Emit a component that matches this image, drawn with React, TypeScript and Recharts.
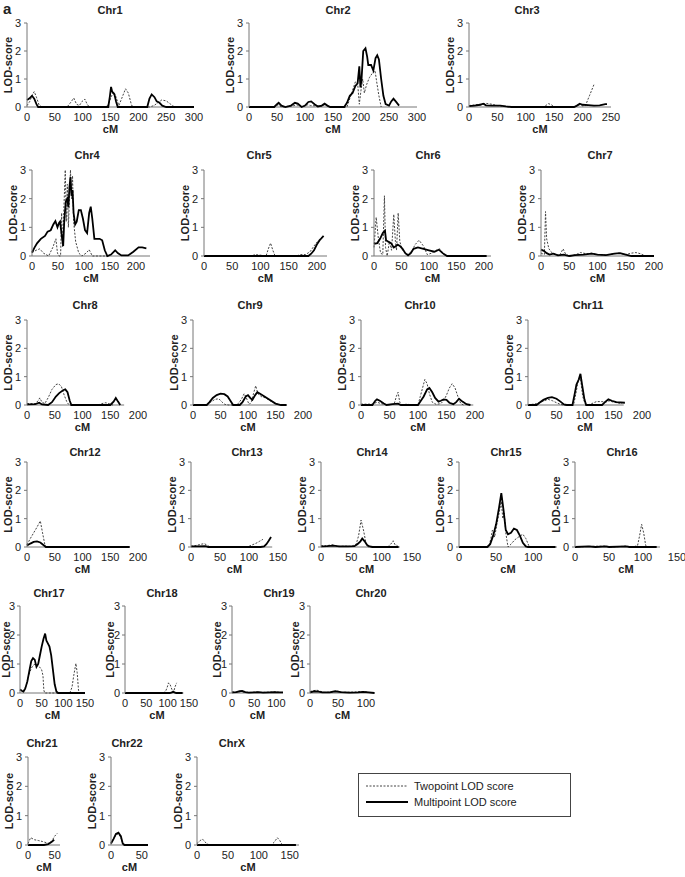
import { LineChart, Line, XAxis, YAxis, ReferenceLine } from 'recharts';

type Pt = [number, number];

// [cM, LOD] pairs; "Two" = twopoint (dotted), "Multi" = multipoint (solid)
const chr1Two: Pt[] = [[0, 0.05], [5, 0.2], [10, 0.45], [13, 0.55], [17, 0.35], [22, 0.05], [28, 0], [72, 0], [78, 0.15], [84, 0.32], [89, 0.1], [94, 0.05], [99, 0.2], [104, 0.28], [108, 0.1], [112, 0], [143, 0], [148, 0.2], [152, 0.4], [156, 0.55], [160, 0.35], [165, 0.05], [170, 0.3], [177, 0.65], [182, 0.5], [188, 0.05], [195, 0], [220, 0], [228, 0.05], [235, 0.15], [242, 0.25], [250, 0.22], [258, 0.1], [265, 0]];
const chr1Multi: Pt[] = [[0, 0.25], [4, 0.3], [9, 0.4], [13, 0.3], [17, 0.1], [20, 0], [146, 0], [149, 0.4], [151, 0.72], [153, 0.55], [157, 0.45], [160, 0.2], [163, 0], [216, 0], [220, 0.3], [224, 0.45], [229, 0.35], [233, 0.2], [238, 0.15], [243, 0.05], [250, 0], [300, 0]];

const chr2Two: Pt[] = [[0, 0], [45, 0], [52, 0.08], [58, 0], [80, 0.05], [85, 0.08], [95, 0], [105, 0.08], [110, 0.05], [130, 0.03], [135, 0.08], [145, 0], [175, 0], [180, 0.3], [185, 0.6], [190, 0.9], [194, 0.85], [197, 0.1], [200, 0.6], [203, 1.0], [206, 0.5], [210, 0.8], [215, 1.05], [220, 1.2], [225, 1.3], [228, 0.9], [232, 0.4], [236, 0]];
const chr2Multi: Pt[] = [[0, 0], [45, 0], [50, 0.1], [53, 0.15], [58, 0.05], [65, 0], [75, 0.05], [82, 0.15], [87, 0.12], [94, 0], [100, 0.05], [106, 0.18], [111, 0.2], [117, 0.1], [123, 0.02], [130, 0.05], [135, 0.12], [140, 0.05], [145, 0], [170, 0], [175, 0.15], [180, 0.4], [185, 0.5], [190, 0.75], [194, 0.85], [197, 1.45], [199, 0.7], [201, 1.0], [204, 2.0], [208, 2.1], [211, 1.8], [213, 1.5], [218, 1.5], [222, 1.3], [226, 1.75], [229, 1.85], [232, 1.7], [236, 1.0], [240, 0.4], [244, 0.1], [250, 0.05], [254, 0.2], [258, 0.3], [262, 0.2], [268, 0.05]];

const chr3Two: Pt[] = [[0, 0.05], [10, 0.08], [20, 0.1], [30, 0.13], [40, 0.1], [50, 0.05], [60, 0.03], [70, 0], [130, 0], [135, 0.05], [140, 0.12], [145, 0.08], [150, 0], [185, 0], [195, 0.08], [200, 0.04], [205, 0.05], [212, 0.4], [220, 0.8]];
const chr3Multi: Pt[] = [[0, 0.03], [10, 0.05], [20, 0.08], [25, 0.12], [30, 0.06], [40, 0.05], [55, 0.05], [65, 0.02], [75, 0], [185, 0], [190, 0.05], [195, 0.12], [200, 0.08], [210, 0.07], [220, 0.05], [230, 0.06], [240, 0.1], [243, 0.1]];

const chr4Two: Pt[] = [[0, 0.12], [8, 0.2], [15, 0.25], [22, 0.1], [32, 0], [40, 0.3], [46, 0.6], [49, 0.1], [52, 0], [55, 0], [57, 1.5], [59, 0.3], [62, 2.0], [64, 3.0], [66, 1.2], [68, 2.5], [70, 1.0], [72, 2.0], [74, 3.0], [76, 2.0], [78, 2.8], [80, 1.2], [84, 0.5], [90, 0.1], [96, 0], [104, 0.1], [110, 0.22], [116, 0], [150, 0]];
const chr4Multi: Pt[] = [[0, 0.12], [5, 0.3], [10, 0.45], [17, 0.6], [25, 0.7], [30, 0.85], [36, 0.9], [41, 1.1], [45, 1.22], [49, 1.0], [52, 1.15], [54, 1.2], [56, 0.9], [58, 0.6], [60, 0.35], [62, 1.2], [65, 1.9], [68, 2.0], [70, 1.7], [72, 2.4], [74, 2.75], [76, 2.1], [78, 2.3], [80, 1.5], [83, 1.1], [86, 1.2], [90, 1.6], [94, 1.6], [98, 1.3], [102, 0.9], [106, 0.8], [110, 1.5], [113, 1.72], [116, 1.3], [120, 0.6], [130, 0.6], [135, 0.55], [140, 0.2], [145, 0], [152, 0.05], [160, 0.2], [165, 0.1], [172, 0.02], [185, 0.02], [195, 0.15], [205, 0.3], [212, 0.3], [220, 0.27]];

const chr5Two: Pt[] = [[0, 0], [85, 0], [90, 0.05], [100, 0.03], [110, 0], [114, 0.25], [118, 0.45], [122, 0.2], [126, 0], [165, 0], [170, 0.05], [180, 0.05], [188, 0.15], [195, 0.35], [203, 0.55], [212, 0.7]];
const chr5Multi: Pt[] = [[0, 0], [185, 0], [190, 0.08], [195, 0.2], [200, 0.4], [205, 0.55], [212, 0.7]];

const chr6Two: Pt[] = [[0, 0.3], [4, 1.35], [8, 0.6], [12, 0.1], [16, 0.05], [19, 2.1], [21, 0.3], [24, 0], [28, 0.5], [32, 0.2], [36, 1.45], [39, 0.5], [41, 0.2], [44, 1.5], [47, 0.5], [52, 0.2], [60, 0.05], [68, 0.15], [75, 0.4], [82, 0.55], [90, 0.35], [97, 0.05], [105, 0.1], [113, 0.2], [120, 0.25], [127, 0.05], [135, 0], [205, 0]];
const chr6Multi: Pt[] = [[0, 0.42], [6, 0.45], [11, 0.6], [16, 0.8], [20, 0.88], [22, 0.55], [26, 0.5], [31, 0.45], [36, 0.3], [40, 0.35], [43, 0.4], [47, 0.35], [52, 0.25], [57, 0.1], [62, 0.02], [67, 0.1], [72, 0.25], [80, 0.3], [90, 0.25], [100, 0.2], [110, 0.15], [118, 0.22], [125, 0.1], [133, 0], [205, 0]];

const chr7Two: Pt[] = [[0, 0.1], [6, 0.05], [8, 1.55], [10, 0.6], [14, 0.25], [20, 0.1], [27, 0.05], [33, 0.02], [39, 0.25], [44, 0.05], [52, 0], [62, 0.05], [70, 0.12], [80, 0.08], [90, 0.1], [100, 0.05], [115, 0.03], [130, 0.08], [138, 0.1], [150, 0.05], [160, 0.1], [168, 0.12], [176, 0.08], [185, 0]];
const chr7Multi: Pt[] = [[0, 0.22], [5, 0.18], [10, 0.1], [15, 0.05], [22, 0.08], [30, 0.02], [40, 0.05], [50, 0], [60, 0.03], [75, 0.05], [90, 0.08], [100, 0.05], [115, 0.03], [130, 0.08], [140, 0.1], [150, 0.05], [160, 0], [200, 0]];

const chr8Two: Pt[] = [[0, 0.05], [15, 0.05], [20, 0.15], [23, 0.25], [27, 0.1], [32, 0.05], [38, 0.25], [45, 0.55], [52, 0.72], [57, 0.75], [62, 0.65], [67, 0.35], [72, 0.1], [76, 0], [128, 0], [135, 0.05], [142, 0.08], [150, 0.03], [155, 0]];
const chr8Multi: Pt[] = [[0, 0.02], [15, 0.03], [22, 0.08], [27, 0.02], [38, 0], [45, 0.1], [52, 0.3], [58, 0.42], [65, 0.52], [69, 0.55], [73, 0.45], [77, 0.15], [80, 0], [150, 0], [156, 0.12], [160, 0.25], [164, 0.12], [168, 0]];

const chr9Two: Pt[] = [[0, 0], [25, 0], [32, 0.1], [40, 0.2], [47, 0.22], [53, 0.1], [58, 0.02], [65, 0], [80, 0], [88, 0.2], [93, 0.4], [97, 0.25], [102, 0.02], [106, 0.1], [110, 0.4], [114, 0.68], [118, 0.4], [124, 0.3], [132, 0.25], [140, 0.15], [150, 0.05], [160, 0]];
const chr9Multi: Pt[] = [[0, 0], [25, 0], [30, 0.1], [36, 0.25], [43, 0.35], [50, 0.4], [57, 0.38], [63, 0.3], [68, 0.15], [73, 0], [85, 0], [90, 0.1], [96, 0.3], [100, 0.35], [104, 0.25], [108, 0.18], [113, 0.35], [117, 0.45], [122, 0.4], [130, 0.3], [140, 0.18], [150, 0.05], [160, 0], [170, 0]];

const chr10Two: Pt[] = [[0, 0.03], [20, 0.03], [28, 0.1], [35, 0.05], [45, 0], [58, 0.02], [62, 0.3], [65, 0.45], [68, 0.1], [72, 0], [80, 0.03], [90, 0], [100, 0], [104, 0.3], [108, 0.6], [112, 0.9], [116, 0.75], [120, 0.4], [125, 0.1], [132, 0.02], [140, 0.05], [145, 0.15], [150, 0.35], [155, 0.6], [160, 0.75], [165, 0.6], [170, 0.3], [175, 0.05], [180, 0]];
const chr10Multi: Pt[] = [[0, 0], [20, 0], [25, 0.15], [28, 0.2], [33, 0.15], [40, 0.05], [45, 0], [55, 0.03], [65, 0.05], [70, 0], [100, 0], [105, 0.15], [110, 0.3], [116, 0.55], [120, 0.6], [125, 0.45], [130, 0.25], [136, 0.12], [140, 0.15], [145, 0.2], [150, 0.18], [155, 0.08], [162, 0.03], [167, 0.1], [172, 0.22], [178, 0.12], [185, 0.03], [192, 0]];

const chr11Two: Pt[] = [[0, 0], [15, 0.05], [25, 0.12], [35, 0.2], [43, 0.15], [50, 0.08], [57, 0.02], [62, 0], [80, 0], [84, 0.4], [88, 0.85], [92, 0.95], [96, 0.3], [100, 0.05], [105, 0], [112, 0.05], [120, 0.12], [130, 0.12], [137, 0.1], [142, 0.15], [150, 0.1], [165, 0.05]];
const chr11Multi: Pt[] = [[0, 0], [15, 0], [20, 0.08], [27, 0.18], [35, 0.25], [42, 0.28], [50, 0.22], [57, 0.12], [63, 0.02], [68, 0], [78, 0], [82, 0.4], [85, 0.72], [89, 0.9], [92, 1.1], [95, 0.7], [99, 0.2], [102, 0], [130, 0], [135, 0.1], [141, 0.2], [147, 0.15], [155, 0.1], [170, 0.08]];

const chr12Two: Pt[] = [[0, 0.08], [6, 0.3], [12, 0.5], [18, 0.7], [24, 0.92], [28, 0.5], [32, 0.1], [35, 0]];
const chr12Multi: Pt[] = [[0, 0.05], [6, 0.12], [12, 0.18], [18, 0.2], [24, 0.16], [29, 0.08], [34, 0], [185, 0]];

const chr13Two: Pt[] = [[0, 0.02], [10, 0.06], [18, 0.1], [23, 0.12], [28, 0.06], [33, 0], [97, 0], [105, 0.07], [112, 0.13], [118, 0.2], [124, 0.27]];
const chr13Multi: Pt[] = [[0, 0.02], [10, 0.02], [25, 0.03], [30, 0], [120, 0], [126, 0.02], [130, 0.1], [134, 0.22], [138, 0.35]];

const chr14Two: Pt[] = [[0, 0.04], [10, 0.05], [20, 0.08], [28, 0.02], [40, 0.03], [50, 0.02], [58, 0.1], [62, 0.4], [66, 0.95], [70, 0.6], [74, 0.15], [78, 0], [110, 0], [115, 0.1], [119, 0.22], [122, 0.08], [126, 0.05]];
const chr14Multi: Pt[] = [[0, 0.02], [10, 0.03], [20, 0.05], [30, 0.02], [45, 0.02], [55, 0.03], [60, 0.1], [65, 0.2], [68, 0.3], [72, 0.2], [76, 0.07], [80, 0.02], [85, 0], [128, 0]];

const chr15Two: Pt[] = [[0, 0], [40, 0], [43, 0.3], [45, 0.6], [48, 0.35], [51, 0.8], [54, 1.2], [57, 1.6], [59, 1.0], [61, 1.2], [63, 0.5], [66, 0], [70, 0.1], [75, 0.25], [80, 0.35], [86, 0.45], [90, 0.3], [94, 0.05], [97, 0]];
const chr15Multi: Pt[] = [[0, 0], [38, 0], [42, 0.1], [46, 0.4], [50, 0.8], [54, 1.4], [57, 1.9], [60, 1.3], [63, 0.6], [66, 0.45], [70, 0.5], [74, 0.65], [78, 0.6], [82, 0.4], [86, 0.15], [90, 0.02], [93, 0], [130, 0]];

const chr16Two: Pt[] = [[0, 0], [20, 0.02], [45, 0.03], [55, 0], [75, 0.03], [85, 0], [92, 0.05], [95, 0.4], [98, 0.8], [101, 0.5], [104, 0.05], [108, 0], [120, 0]];
const chr16Multi: Pt[] = [[0, 0], [20, 0.02], [30, 0], [45, 0.02], [50, 0], [75, 0.02], [80, 0], [120, 0]];

const chr17Two: Pt[] = [[0, 0.12], [5, 0.08], [10, 0.1], [15, 0.3], [20, 0.6], [26, 0.85], [30, 0.95], [35, 1.0], [40, 0.95], [45, 0.9], [50, 0.8], [53, 0.6], [55, 0.1], [57, 0], [115, 0], [120, 0.2], [124, 0.6], [129, 1.02], [132, 0.7], [135, 0.1], [137, 0]];
const chr17Multi: Pt[] = [[0, 0.12], [4, 0.08], [8, 0.05], [12, 0.15], [17, 0.4], [22, 0.8], [26, 1.1], [30, 1.2], [34, 1.15], [38, 0.9], [42, 1.0], [46, 1.3], [50, 1.6], [54, 1.85], [58, 2.05], [61, 1.8], [64, 1.72], [68, 1.6], [72, 1.3], [76, 0.8], [80, 0.3], [84, 0.05], [88, 0], [150, 0]];

const chr18Two: Pt[] = [[0, 0], [90, 0], [95, 0.05], [99, 0.2], [102, 0.35], [106, 0.28], [110, 0.12], [114, 0.03], [117, 0.2], [121, 0.35]];
const chr18Multi: Pt[] = [[0, 0], [105, 0], [110, 0.02], [113, 0.05], [116, 0.02], [120, 0], [135, 0]];

const chr19Two: Pt[] = [[0, 0.03], [12, 0.04], [20, 0.05], [28, 0.02], [45, 0.02], [55, 0.04], [65, 0.02], [85, 0.03], [100, 0.04], [110, 0.02]];
const chr19Multi: Pt[] = [[0, 0.02], [10, 0.03], [17, 0.06], [23, 0.07], [30, 0.03], [38, 0.01], [50, 0.02], [60, 0.03], [70, 0.01], [85, 0.02], [95, 0.03], [105, 0.02], [115, 0.02]];

const chr20Two: Pt[] = [[0, 0.05], [6, 0.08], [12, 0.1], [18, 0.06], [25, 0.02], [40, 0.03], [48, 0.07], [58, 0.02], [75, 0.03], [95, 0.05], [105, 0.02]];
const chr20Multi: Pt[] = [[0, 0.02], [8, 0.06], [15, 0.05], [22, 0.02], [35, 0.02], [45, 0.06], [55, 0.03], [70, 0.01], [85, 0.02], [95, 0.04], [105, 0.02], [115, 0]];

const chr21Two: Pt[] = [[0, 0.05], [5, 0.25], [12, 0.18], [20, 0.15], [27, 0.12], [34, 0.08], [40, 0.05], [45, 0.15], [50, 0.3], [55, 0.4]];
const chr21Multi: Pt[] = [[0, 0], [30, 0], [38, 0.03], [44, 0.1], [49, 0.18]];

const chr22Two: Pt[] = [[0, 0.05], [4, 0.2], [8, 0.35], [12, 0.38], [16, 0.25], [20, 0], [60, 0]];
const chr22Multi: Pt[] = [[0, 0.05], [4, 0.2], [8, 0.38], [12, 0.42], [16, 0.3], [19, 0.05], [22, 0], [60, 0]];

const chrXTwo: Pt[] = [[0, 0.05], [5, 0.15], [9, 0.2], [13, 0.1], [18, 0.02], [25, 0], [120, 0], [125, 0.1], [130, 0.25], [134, 0.15], [138, 0], [160, 0]];
const chrXMulti: Pt[] = [[0, 0], [160, 0]];

const ticks300 = [0, 50, 100, 150, 200, 250, 300];
const ticks250 = [0, 50, 100, 150, 200, 250];
const ticks200 = [0, 50, 100, 150, 200];
const ticks150 = [0, 50, 100, 150];
const ticks100 = [0, 50, 100];
const ticks50 = [0, 50];
const lodTicks = [0, 1, 2, 3];

interface Panel {
  name: string;
  two: Pt[];
  multi: Pt[];
  ticks: number[];
  end: number; // where the x axis line stops (cM)
  x0: number; // px of cM 0
  x1: number; // px of last tick
  y3: number;
  y0: number;
  tx: number;
  ty: number;
  gap?: number; // distance of the LOD-score label from the axis
}

const panels: Panel[] = [
  { name: 'Chr1', two: chr1Two, multi: chr1Multi, ticks: ticks300, end: 300, x0: 27, x1: 194, y3: 23, y0: 107, tx: 110, ty: 10 },
  { name: 'Chr2', two: chr2Two, multi: chr2Multi, ticks: ticks300, end: 300, x0: 249, x1: 417, y3: 23, y0: 107, tx: 338, ty: 10 },
  { name: 'Chr3', two: chr3Two, multi: chr3Multi, ticks: ticks250, end: 250, x0: 469, x1: 611, y3: 23, y0: 107, tx: 527, ty: 10 },

  { name: 'Chr4', two: chr4Two, multi: chr4Multi, ticks: ticks200, end: 227, x0: 32, x1: 136, y3: 170, y0: 256, tx: 87, ty: 155 },
  { name: 'Chr5', two: chr5Two, multi: chr5Multi, ticks: ticks200, end: 218, x0: 204, x1: 317, y3: 170, y0: 256, tx: 259, ty: 155 },
  { name: 'Chr6', two: chr6Two, multi: chr6Multi, ticks: ticks200, end: 213, x0: 374, x1: 484, y3: 170, y0: 256, tx: 428, ty: 155 },
  { name: 'Chr7', two: chr7Two, multi: chr7Multi, ticks: ticks200, end: 200, x0: 541, x1: 654, y3: 170, y0: 256, tx: 600, ty: 155 },

  { name: 'Chr8', two: chr8Two, multi: chr8Multi, ticks: ticks200, end: 175, x0: 27, x1: 138, y3: 320, y0: 405, tx: 85, ty: 305 },
  { name: 'Chr9', two: chr9Two, multi: chr9Multi, ticks: ticks200, end: 171, x0: 193, x1: 303, y3: 320, y0: 405, tx: 250, ty: 305 },
  { name: 'Chr10', two: chr10Two, multi: chr10Multi, ticks: ticks200, end: 197, x0: 361, x1: 475, y3: 320, y0: 405, tx: 420, ty: 305 },
  { name: 'Chr11', two: chr11Two, multi: chr11Multi, ticks: ticks200, end: 168, x0: 528, x1: 642, y3: 320, y0: 405, tx: 588, ty: 305 },

  { name: 'Chr12', two: chr12Two, multi: chr12Multi, ticks: ticks200, end: 185, x0: 27, x1: 138, y3: 462, y0: 547, tx: 85, ty: 452 },
  { name: 'Chr13', two: chr13Two, multi: chr13Multi, ticks: ticks150, end: 140, x0: 191, x1: 278, y3: 462, y0: 547, tx: 247, ty: 452 },
  { name: 'Chr14', two: chr14Two, multi: chr14Multi, ticks: ticks150, end: 130, x0: 321, x1: 412, y3: 462, y0: 547, tx: 372, ty: 452 },
  { name: 'Chr15', two: chr15Two, multi: chr15Multi, ticks: ticks100, end: 132, x0: 459, x1: 533, y3: 462, y0: 547, tx: 506, ty: 452 },
  { name: 'Chr16', two: chr16Two, multi: chr16Multi, ticks: ticks150, end: 125, x0: 575, x1: 677, y3: 462, y0: 547, tx: 622, ty: 452 },

  { name: 'Chr17', two: chr17Two, multi: chr17Multi, ticks: ticks150, end: 150, x0: 20, x1: 85, y3: 606, y0: 693, tx: 49, ty: 593, gap: 14 },
  { name: 'Chr18', two: chr18Two, multi: chr18Multi, ticks: ticks150, end: 137, x0: 125, x1: 189, y3: 606, y0: 693, tx: 162, ty: 593, gap: 15 },
  { name: 'Chr19', two: chr19Two, multi: chr19Multi, ticks: ticks100, end: 115, x0: 232, x1: 276, y3: 606, y0: 693, tx: 279, ty: 593, gap: 15 },
  { name: 'Chr20', two: chr20Two, multi: chr20Multi, ticks: ticks100, end: 116, x0: 310, x1: 366, y3: 606, y0: 693, tx: 371, ty: 593, gap: 15 },

  { name: 'Chr21', two: chr21Two, multi: chr21Multi, ticks: ticks50, end: 60, x0: 28, x1: 55, y3: 757, y0: 845, tx: 42, ty: 743 },
  { name: 'Chr22', two: chr22Two, multi: chr22Multi, ticks: ticks50, end: 60, x0: 111, x1: 142, y3: 757, y0: 845, tx: 127, ty: 743 },
  { name: 'ChrX', two: chrXTwo, multi: chrXMulti, ticks: ticks150, end: 165, x0: 197, x1: 290, y3: 757, y0: 845, tx: 232, ty: 743 },
];

const FONT = '"Liberation Sans", Arial, Helvetica, sans-serif';
const TXT = '#222';
const AXIS = '#777';

const toRows = (pts: Pt[]) => pts.map(([cM, lod]) => ({ cM, lod }));

function ChrPanel({ p }: { p: Panel }) {
  const last = p.ticks[p.ticks.length - 1];
  const pxPerCm = (p.x1 - p.x0) / last;
  const max = Math.max(last, p.end);
  const plotW = Math.round(max * pxPerCm);
  const plotH = p.y0 - p.y3;
  const L = 40;
  const T = 10;
  const R = 14;
  const B = 34;
  const gap = p.gap ?? 19;

  return (
    <>
      <div
        style={{
          position: 'absolute',
          left: p.tx,
          top: p.ty - 7,
          transform: 'translateX(-50%)',
          fontWeight: 'bold',
          fontSize: 11,
          lineHeight: '14px',
          whiteSpace: 'nowrap',
          color: TXT,
        }}
      >
        {p.name}
      </div>
      <div style={{ position: 'absolute', left: p.x0 - L, top: p.y3 - T }}>
        <LineChart width={L + plotW + R} height={T + plotH + B} margin={{ top: T, right: R, bottom: 0, left: 0 }}>
          <XAxis
            type='number'
            dataKey='cM'
            domain={[0, max]}
            ticks={p.ticks}
            interval={0}
            height={B}
            axisLine={false}
            tickLine={false}
            tickSize={4}
            tickMargin={2}
            tick={{ fontSize: 11, fill: TXT, fontFamily: FONT }}
            label={{ value: 'cM', position: 'insideBottom', offset: 8, fontSize: 11, fontWeight: 'bold', fill: TXT, fontFamily: FONT }}
          />
          <YAxis
            type='number'
            domain={[0, 3]}
            ticks={lodTicks}
            interval={0}
            width={L}
            axisLine={{ stroke: AXIS }}
            tickLine={{ stroke: AXIS }}
            tickSize={3}
            tickMargin={p.gap ? 2 : 3}
            tick={{ fontSize: 11, fill: TXT, fontFamily: FONT }}
            label={{
              value: 'LOD-score',
              angle: -90,
              position: 'insideLeft',
              offset: L - gap,
              fontSize: 11,
              fontWeight: 'bold',
              fill: TXT,
              fontFamily: FONT,
              style: { textAnchor: 'middle' },
            }}
          />
          <ReferenceLine segment={[{ x: 0, y: 0 }, { x: p.end, y: 0 }]} stroke={AXIS} />
          <Line
            data={toRows(p.two)}
            dataKey='lod'
            type='linear'
            stroke='#444'
            strokeWidth={1}
            strokeDasharray='2 1.5'
            dot={false}
            isAnimationActive={false}
          />
          <Line
            data={toRows(p.multi)}
            dataKey='lod'
            type='linear'
            stroke='#000'
            strokeWidth={1.8}
            dot={false}
            isAnimationActive={false}
          />
        </LineChart>
      </div>
    </>
  );
}

function LegendBox() {
  const row = (dashed: boolean, text: string, top: number) => (
    <div style={{ position: 'absolute', left: 7, top, display: 'flex', alignItems: 'center' }}>
      <svg width={44} height={6}>
        <line
          x1={0}
          y1={3}
          x2={42}
          y2={3}
          stroke={dashed ? '#444' : '#000'}
          strokeWidth={dashed ? 1 : 1.8}
          strokeDasharray={dashed ? '2 1.5' : undefined}
        />
      </svg>
      <span style={{ marginLeft: 4, fontSize: 11, color: TXT, whiteSpace: 'nowrap' }}>{text}</span>
    </div>
  );
  return (
    <div style={{ position: 'absolute', left: 358, top: 773, width: 211, height: 42, border: '1px solid #444' }}>
      {row(true, 'Twopoint LOD score', 6)}
      {row(false, 'Multipoint LOD score', 22)}
    </div>
  );
}

export default function App() {
  return (
    <div
      style={{
        position: 'absolute',
        left: 0,
        top: 0,
        width: 685,
        height: 877,
        background: '#fff',
        fontFamily: FONT,
        overflow: 'hidden',
      }}
    >
      <div style={{ position: 'absolute', left: 3, top: 0, fontSize: 15, fontWeight: 'bold', color: TXT }}>a</div>
      {panels.map((p) => (
        <ChrPanel key={p.name} p={p} />
      ))}
      <LegendBox />
    </div>
  );
}
